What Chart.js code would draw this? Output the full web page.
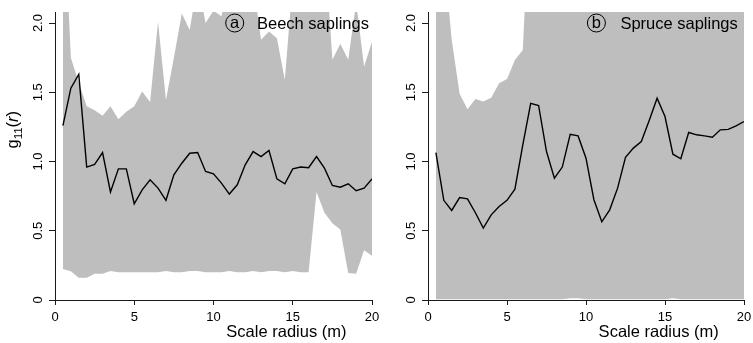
<!DOCTYPE html>
<html>
<head>
<meta charset="utf-8">
<script src="https://cdn.jsdelivr.net/npm/chart.js@4.4.1/dist/chart.umd.min.js"></script>
<style>
  body { margin: 0; background: #fff; }
  #wrap { position: relative; width: 753px; height: 343px; overflow: hidden; }
  canvas { position: absolute; top: 0; }
</style>
</head>
<body>
<div id="wrap">
  <canvas id="beech" width="400" height="343" style="left:0"></canvas>
  <canvas id="spruce" width="377" height="343" style="left:376px"></canvas>
</div>
<script>
// scale radius (m), same for both panels
const radius = [0.5, 1, 1.5, 2, 2.5, 3, 3.5, 4, 4.5, 5, 5.5, 6, 6.5, 7, 7.5, 8, 8.5, 9, 9.5, 10,
  10.5, 11, 11.5, 12, 12.5, 13, 13.5, 14, 14.5, 15, 15.5, 16, 16.5, 17, 17.5, 18, 18.5, 19, 19.5, 20];

// (a) beech saplings
const beechG = [1.26, 1.53, 1.63, 0.96, 0.98, 1.065, 0.78, 0.947, 0.947, 0.695, 0.796, 0.868, 0.808, 0.72, 0.904, 0.988, 1.06, 1.065, 0.928, 0.911,
  0.844, 0.765, 0.832, 0.976, 1.072, 1.036, 1.08, 0.875, 0.839, 0.947, 0.96, 0.955, 1.036, 0.952, 0.827, 0.815, 0.839, 0.789, 0.808, 0.875];
const beechHi = [3.0, 1.75, 1.57, 1.40, 1.37, 1.33, 1.40, 1.305, 1.36, 1.40, 1.505, 1.43, 2.01, 1.445, 1.75, 2.07, 1.95, 2.3, 2.0, 2.09,
  2.05, 2.3, 2.3, 2.3, 2.3, 1.88, 1.94, 1.89, 1.59, 2.3, 2.3, 2.3, 2.3, 2.6, 1.735, 1.85, 1.735, 2.15, 1.685, 1.865];
const beechLo = [0.224, 0.207, 0.16, 0.16, 0.19, 0.19, 0.21, 0.20, 0.20, 0.20, 0.20, 0.20, 0.20, 0.21, 0.20, 0.20, 0.21, 0.21, 0.20, 0.20,
  0.20, 0.21, 0.20, 0.20, 0.21, 0.20, 0.21, 0.21, 0.20, 0.21, 0.20, 0.20, 0.78, 0.63, 0.555, 0.51, 0.195, 0.19, 0.36, 0.32];

// (b) spruce saplings
const spruceG = [1.065, 0.72, 0.647, 0.74, 0.73, 0.63, 0.52, 0.615, 0.675, 0.72, 0.80, 1.12, 1.42, 1.405, 1.072, 0.88, 0.96, 1.197, 1.185, 1.024,
  0.724, 0.565, 0.651, 0.808, 1.03, 1.097, 1.144, 1.296, 1.457, 1.325, 1.053, 1.02, 1.21, 1.193, 1.185, 1.176, 1.229, 1.232, 1.258, 1.289];
const spruceHi = [2.6, 2.5, 1.88, 1.49, 1.378, 1.452, 1.433, 1.46, 1.566, 1.597, 1.734, 1.806, 3.0, 3.0, 3.0, 3.0, 3.0, 3.0, 3.0, 3.0,
  3.0, 3.0, 3.0, 3.0, 3.0, 3.0, 3.0, 3.0, 3.0, 3.0, 3.0, 3.0, 3.0, 3.0, 3.0, 3.0, 3.0, 3.0, 3.0, 3.0];
const spruceLo = [0.005, 0.005, 0.005, 0.005, 0.005, 0.005, 0.005, 0.005, 0.005, 0.005, 0.005, 0.005, 0.005, 0.005, 0.005, 0.005, 0.005, 0.012, 0.012, 0.005,
  0.005, 0.005, 0.005, 0.005, 0.005, 0.005, 0.005, 0.005, 0.005, 0.005, 0.012, 0.005, 0.005, 0.005, 0.005, 0.005, 0.005, 0.005, 0.005, 0.005];

const xTicks = [0, 5, 10, 15, 20];
const yTicks = [0, 0.5, 1.0, 1.5, 2.0];

const FONT = '"Liberation Sans", Arial, Helvetica, sans-serif';
const GREY = '#bebebe';
const AXIS = '#1a1a1a';

const pts = (ys) => radius.map((r, i) => ({ x: r, y: ys[i] }));

// panel tag, x title and y title (only on the left panel)
const panelText = {
  id: 'panelText',
  afterDraw(chart, args, opts) {
    const { ctx, chartArea } = chart;
    const xs = chart.scales.x, ys = chart.scales.y;
    ctx.save();
    ctx.fillStyle = '#000';
    ctx.strokeStyle = '#000';

    ctx.font = '16.5px ' + FONT;
    ctx.textAlign = 'center';
    ctx.textBaseline = 'alphabetic';
    ctx.fillText('Scale radius (m)', xs.getPixelForValue(14.6), 337);

    const cx = chartArea.right - opts.circleDx, cy = 23;
    ctx.lineWidth = 1;
    ctx.beginPath();
    ctx.arc(cx, cy, 9, 0, Math.PI * 2);
    ctx.stroke();
    ctx.textBaseline = 'middle';
    ctx.fillText(opts.letter, cx, cy);
    ctx.textAlign = 'left';
    ctx.textBaseline = 'alphabetic';
    ctx.fillText(opts.label, chartArea.right - opts.labelDx, 28.5);

    if (opts.yTitle) {
      const parts = [
        { t: 'g', f: '16.5px ' + FONT, dy: 0 },
        { t: '11', f: '11.5px ' + FONT, dy: 3.5 },
        { t: '(', f: '16.5px ' + FONT, dy: 0 },
        { t: 'r', f: 'italic 16.5px ' + FONT, dy: 0 },
        { t: ')', f: '16.5px ' + FONT, dy: 0 }
      ];
      let total = 0;
      parts.forEach(p => { ctx.font = p.f; p.w = ctx.measureText(p.t).width; total += p.w; });
      ctx.translate(18, ys.getPixelForValue(1.23));
      ctx.rotate(-Math.PI / 2);
      let px = -total / 2;
      parts.forEach(p => { ctx.font = p.f; ctx.fillText(p.t, px, p.dy); px += p.w; });
    }
    ctx.restore();
  }
};

function makePanel(id, g, hi, lo, yWidth, pad, tag) {
  return new Chart(document.getElementById(id), {
    type: 'line',
    data: {
      datasets: [
        { data: pts(g), borderColor: '#000', borderWidth: 1.4, pointRadius: 0, fill: false, tension: 0 },
        { data: pts(hi), borderColor: 'rgba(0,0,0,0)', borderWidth: 0, pointRadius: 0, fill: false, tension: 0 },
        { data: pts(lo), borderColor: 'rgba(0,0,0,0)', borderWidth: 0, pointRadius: 0, fill: '-1', backgroundColor: GREY, tension: 0 }
      ]
    },
    options: {
      responsive: false,
      animation: false,
      events: [],
      layout: { padding: pad },
      plugins: { legend: { display: false }, tooltip: { enabled: false }, panelText: tag },
      scales: {
        x: {
          type: 'linear', min: 0, max: 20,
          afterBuildTicks: (s) => { s.ticks = xTicks.map(v => ({ value: v })); },
          afterFit: (s) => { s.height = 43; s.paddingLeft = 0; s.paddingRight = 0; },
          grid: { drawOnChartArea: false, drawTicks: true, tickLength: 5, color: AXIS, tickColor: AXIS },
          border: { display: true, color: AXIS, width: 1 },
          ticks: { padding: 5, color: '#000', font: { family: FONT, size: 13 }, maxRotation: 0, autoSkip: false, callback: (v) => String(v) }
        },
        y: {
          type: 'linear', min: 0, max: 2.08,
          afterBuildTicks: (s) => { s.ticks = yTicks.map(v => ({ value: v })); },
          afterFit: (s) => { s.width = yWidth; s.paddingTop = 0; s.paddingBottom = 0; },
          grid: { drawOnChartArea: false, drawTicks: true, tickLength: 6, color: AXIS, tickColor: AXIS },
          border: { display: true, color: AXIS, width: 1 },
          ticks: { padding: 2, crossAlign: 'center', minRotation: 90, maxRotation: 90, color: '#000', font: { family: FONT, size: 13 }, autoSkip: false,
            callback: (v) => v === 0 ? '0' : v.toFixed(1) }
        }
      }
    },
    plugins: [panelText]
  });
}

makePanel('beech', beechG, beechHi, beechLo, 55, { left: 0, top: 12, right: 28, bottom: 0 },
  { letter: 'a', label: 'Beech saplings', circleDx: 137.3, labelDx: 115, yTitle: true });
makePanel('spruce', spruceG, spruceHi, spruceLo, 52, { left: 0, top: 12, right: 9, bottom: 0 },
  { letter: 'b', label: 'Spruce saplings', circleDx: 147.6, labelDx: 123.6, yTitle: false });
</script>
</body>
</html>
